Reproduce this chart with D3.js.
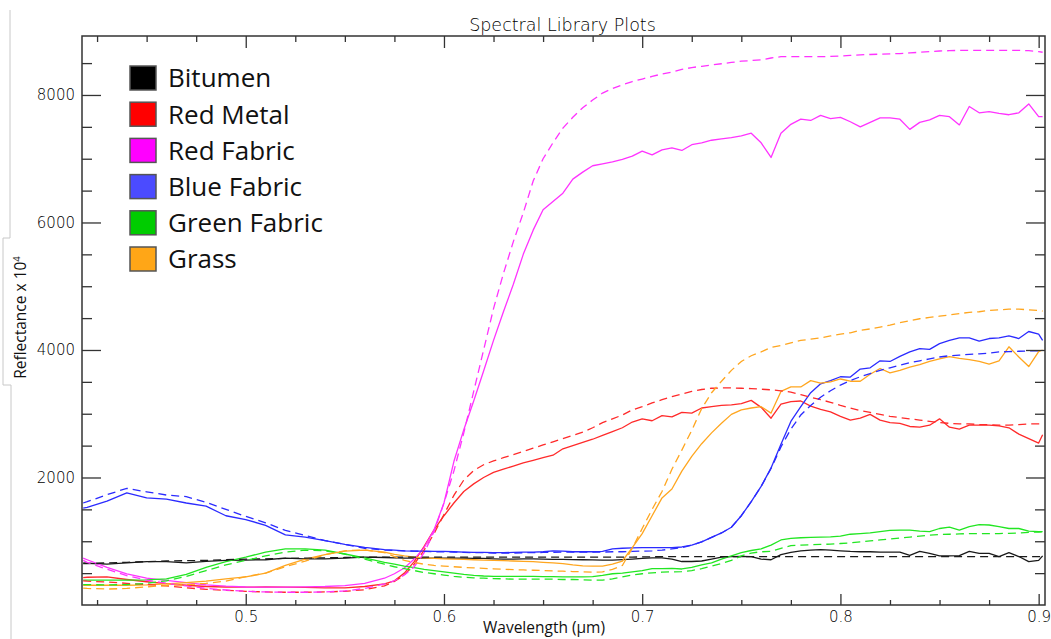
<!DOCTYPE html>
<html><head><meta charset="utf-8">
<script src="https://cdn.jsdelivr.net/npm/d3@7"></script>
<style>body{margin:0;background:#fff} svg{display:block}</style>
</head><body>
<svg id="chart" width="1051" height="639"></svg>
<script>
// ---------- DATA ----------
const wavelengths = [0.418,0.42,0.43,0.44,0.45,0.46,0.47,0.48,0.49,0.50,0.51,0.52,0.53,0.54,0.55,0.56,0.57,
0.575,0.58,0.585,0.59,0.595,0.60,0.605,0.61,0.615,0.62,0.625,0.63,0.635,0.64,0.645,0.65,0.655,0.66,0.665,0.67,0.675,0.68,0.685,0.69,
0.695,0.70,0.705,0.71,0.715,0.72,0.725,0.73,0.735,0.74,0.745,0.75,0.755,0.76,0.765,0.77,0.775,0.78,0.785,0.79,
0.795,0.80,0.805,0.81,0.815,0.82,0.825,0.83,0.835,0.84,0.845,0.85,0.855,0.86,0.865,0.87,0.875,0.88,0.885,0.89,0.895,0.90,0.902];

const bitumenSolid = [660,655,640,660,680,680,660,685,700,705,710,735,725,725,735,750,745,
740,735,735,735,735,735,735,735,730,730,725,720,720,725,725,720,715,715,712,710,708,705,705,712,
720,730,740,740,720,682,682,690,720,750,760,762,760,720,710,790,825,850,860,870,
860,850,840,835,835,830,830,830,780,840,810,770,770,775,840,810,810,760,820,760,680,700,770];
const bitumenDash = [650,650,660,670,680,690,695,700,710,720,725,730,735,740,745,750,750,
750,750,750,750,750,750,750,750,750,750,750,750,750,750,750,750,750,750,750,750,750,750,750,750,
752,754,756,758,760,760,760,760,760,760,760,760,760,760,760,760,760,760,760,760,
760,760,760,760,760,760,760,760,760,760,760,760,760,760,760,760,760,760,760,760,760,760,760];

const redMetalSolid = [430,435,440,400,365,335,310,290,282,280,282,280,275,270,268,290,330,
380,500,680,920,1180,1400,1600,1780,1900,2000,2080,2130,2180,2230,2270,2310,2350,2450,2500,2550,2600,2660,2720,2780,
2870,2920,2890,2970,2950,3020,3010,3090,3110,3130,3140,3160,3210,3100,2930,3150,3190,3200,3120,3070,
3030,2960,2900,2930,2990,2900,2860,2850,2800,2790,2820,2920,2790,2760,2820,2820,2820,2810,2780,2680,2610,2540,2670];
const redMetalDash = [380,375,360,340,320,300,270,245,230,215,205,200,200,205,215,240,300,
370,470,640,860,1120,1420,1720,1960,2110,2200,2260,2310,2360,2410,2460,2510,2560,2610,2660,2710,2780,2860,2920,2980,
3060,3110,3170,3220,3270,3310,3350,3380,3400,3405,3405,3400,3395,3385,3375,3360,3340,3300,3260,3220,
3180,3130,3090,3050,3020,2990,2960,2940,2920,2900,2880,2860,2850,2840,2840,2830,2830,2820,2820,2830,2840,2840,2840];

const redFabricSolid = [735,710,590,490,420,385,350,315,295,282,280,280,283,290,305,340,420,
490,580,720,900,1180,1600,2250,2750,3200,3670,4150,4600,5030,5500,5880,6200,6330,6460,6680,6790,6890,6920,6950,6990,
7040,7120,7060,7140,7170,7130,7220,7250,7290,7310,7330,7360,7400,7250,7020,7400,7540,7620,7600,7680,
7630,7650,7580,7500,7570,7640,7640,7620,7460,7570,7610,7680,7660,7530,7820,7720,7740,7710,7690,7720,7860,7660,7660];
const redFabricDash = [700,670,560,460,390,340,300,260,235,215,205,200,200,205,220,260,330,
380,470,600,820,1150,1600,2100,2700,3350,4000,4650,5200,5700,6150,6650,7000,7250,7480,7650,7800,7920,8030,8100,8160,
8210,8250,8290,8330,8360,8400,8430,8450,8470,8490,8510,8530,8540,8550,8580,8600,8600,8600,8600,8600,
8605,8610,8620,8630,8635,8640,8645,8650,8660,8670,8680,8690,8695,8700,8700,8700,8700,8700,8700,8700,8695,8680,8670];

const blueFabricSolid = [1520,1530,1630,1760,1680,1660,1600,1550,1400,1340,1250,1100,1065,1010,950,905,870,
860,850,845,845,840,840,835,830,825,825,820,820,825,830,830,835,850,845,835,835,835,840,880,890,
895,900,900,900,900,910,940,990,1060,1130,1220,1400,1620,1860,2150,2520,2880,3110,3330,3470,
3520,3580,3575,3700,3720,3830,3820,3900,3970,4020,4010,4100,4150,4190,4190,4140,4180,4190,4220,4180,4290,4250,4150];
const blueFabricDash = [1600,1620,1730,1830,1775,1725,1700,1610,1500,1390,1290,1170,1090,1010,950,890,860,
855,850,845,840,835,835,830,825,820,820,815,815,815,820,820,825,825,830,830,830,830,830,835,835,
840,845,850,860,880,900,940,990,1060,1130,1220,1400,1620,1860,2140,2480,2760,2980,3130,3260,
3360,3450,3520,3580,3630,3680,3720,3760,3800,3830,3860,3890,3910,3920,3930,3940,3950,3970,3975,3980,3985,3985,3985];

const greenFabricSolid = [390,390,390,390,395,410,480,590,680,750,830,880,880,860,800,740,670,
640,610,585,560,540,520,500,480,465,455,450,450,450,450,448,445,445,442,440,440,445,465,490,500,
520,540,570,570,575,565,590,630,660,720,770,820,855,880,940,1020,1045,1055,1060,1065,
1070,1080,1110,1120,1130,1150,1170,1175,1175,1160,1150,1200,1220,1175,1230,1260,1255,1230,1200,1200,1160,1150,1150];
const greenFabricDash = [320,320,315,320,340,380,450,540,630,700,770,830,860,850,800,720,640,
600,570,540,510,490,470,450,435,425,420,415,410,405,405,405,405,405,400,400,395,390,390,410,440,
470,490,505,515,520,525,540,570,610,650,700,770,815,835,840,890,930,940,945,950,
955,965,975,990,1005,1020,1035,1050,1065,1080,1095,1105,1110,1115,1120,1120,1120,1120,1125,1130,1140,1145,1150];

const grassSolid = [310,310,310,310,315,330,350,375,410,440,500,620,720,790,845,860,830,
795,770,750,740,730,725,720,715,710,705,700,695,690,685,680,670,660,650,630,615,610,610,640,690,
900,1120,1400,1680,1820,2100,2330,2530,2700,2850,2990,3060,3090,3110,3010,3350,3420,3420,3520,3480,
3500,3545,3510,3510,3620,3710,3640,3680,3730,3770,3820,3860,3895,3870,3850,3820,3780,3830,4050,3890,3740,3975,4000];
const grassDash = [265,260,250,260,285,305,320,340,375,445,500,600,690,790,850,865,820,
760,700,665,640,620,610,600,590,582,575,568,560,555,550,545,540,535,530,525,520,515,520,560,620,
890,1200,1500,1780,2130,2430,2740,3080,3330,3510,3680,3820,3910,3970,4040,4070,4110,4150,4170,4190,
4220,4250,4270,4310,4330,4360,4390,4430,4460,4490,4510,4530,4550,4570,4590,4600,4620,4630,4640,4640,4630,4620,4610];

const legendNames = ["Bitumen","Red Metal","Red Fabric","Blue Fabric","Green Fabric","Grass"];
const swatchColors = ["#000000","#ff0000","#ff00ff","#4b4bff","#00cc00","#ffa617"];
const lineColors = ["#1a1a1a","#ff2a2a","#ff33ff","#2b2bff","#22e622","#ffa61f"];
const solidSeries = [bitumenSolid, redMetalSolid, redFabricSolid, blueFabricSolid, greenFabricSolid, grassSolid];
const dashSeries = [bitumenDash, redMetalDash, redFabricDash, blueFabricDash, greenFabricDash, grassDash];

const yMajor = [2000,4000,6000,8000];
const yMinor = [500,1000,1500,2500,3000,3500,4500,5000,5500,6500,7000,7500,8500];
const xMajor = [0.5,0.6,0.7,0.8,0.9];
const xMinor = [0.425,0.45,0.475,0.525,0.55,0.575,0.625,0.65,0.675,0.725,0.75,0.775,0.825,0.85,0.875];

// ---------- CHART ----------
const svg = d3.select("#chart");
const L = 82, R = 1045, T = 36, B = 605;
const x = d3.scaleLinear().domain([0.4174, 0.9032]).range([L, R]);
const y = d3.scaleLinear().domain([0, 8925]).range([B, T]);

// text box artifact lines at left
svg.append("path").attr("d","M10,10 V238 H3 V385 H11 V639")
  .attr("fill","none").attr("stroke","#c8c8c8").attr("stroke-width",1);

svg.append("defs").append("clipPath").attr("id","clip")
  .append("rect").attr("x",L).attr("y",T).attr("width",R-L).attr("height",B-T);

const line = d3.line().x((d,i)=>x(wavelengths[i])).y(d=>y(d));
const plot = svg.append("g").attr("clip-path","url(#clip)");
solidSeries.forEach((s,k)=>{
  plot.append("path").attr("d", line(s)).attr("fill","none")
    .attr("stroke", lineColors[k]).attr("stroke-width",1.3).attr("stroke-linejoin","round");
});
dashSeries.forEach((s,k)=>{
  plot.append("path").attr("d", line(s)).attr("fill","none")
    .attr("stroke", lineColors[k]).attr("stroke-width",1.3).attr("stroke-dasharray","8,5");
});

// axes
const axisFont = "'DejaVu Sans', sans-serif";
function styleAxis(sel){
  sel.select(".domain").remove();
  sel.selectAll("line").attr("stroke","#333").attr("stroke-width",1.3);
  sel.selectAll("text").attr("fill","#000").style("font-family",axisFont)
     .style("font-size","15px").style("font-weight",200);
}
svg.append("g").attr("transform",`translate(${L},0)`)
  .call(d3.axisLeft(y).tickValues(yMajor).tickSizeInner(-19).tickSizeOuter(0).tickPadding(7).tickFormat(d3.format("d")))
  .call(styleAxis);
svg.append("g").attr("transform",`translate(${L},0)`)
  .call(d3.axisLeft(y).tickValues(yMinor).tickSizeInner(-10).tickSizeOuter(0).tickFormat(""))
  .call(styleAxis);
svg.append("g").attr("transform",`translate(${R},0)`)
  .call(d3.axisRight(y).tickValues(yMajor).tickSizeInner(-19).tickSizeOuter(0).tickFormat(""))
  .call(styleAxis);
svg.append("g").attr("transform",`translate(${R},0)`)
  .call(d3.axisRight(y).tickValues(yMinor).tickSizeInner(-10).tickSizeOuter(0).tickFormat(""))
  .call(styleAxis);
svg.append("g").attr("transform",`translate(0,${B})`)
  .call(d3.axisBottom(x).tickValues(xMajor).tickSizeInner(-11).tickSizeOuter(0).tickPadding(6).tickFormat(d3.format(".1f")))
  .call(styleAxis);
svg.append("g").attr("transform",`translate(0,${B})`)
  .call(d3.axisBottom(x).tickValues(xMinor).tickSizeInner(-5).tickSizeOuter(0).tickFormat(""))
  .call(styleAxis);
svg.append("g").attr("transform",`translate(0,${T})`)
  .call(d3.axisTop(x).tickValues(xMajor).tickSizeInner(-12).tickSizeOuter(0).tickFormat(""))
  .call(styleAxis);
svg.append("g").attr("transform",`translate(0,${T})`)
  .call(d3.axisTop(x).tickValues(xMinor).tickSizeInner(-6).tickSizeOuter(0).tickFormat(""))
  .call(styleAxis);

svg.append("rect").attr("x",L).attr("y",T).attr("width",R-L).attr("height",B-T)
  .attr("fill","none").attr("stroke","#333").attr("stroke-width",1.5);

// title
svg.append("text").attr("x",562.5).attr("y",31).attr("text-anchor","middle")
  .style("font-family",axisFont).style("font-size","17.5px").style("font-weight",200)
  .attr("fill","#000").text("Spectral Library Plots");

// x label
svg.append("text").attr("x",544).attr("y",633).attr("text-anchor","middle")
  .style("font-family","'Open Sans', sans-serif").style("font-size","15.5px")
  .attr("fill","#111").text("Wavelength (µm)");

// y label
const yl = svg.append("text").attr("transform","translate(25.5,317.5) rotate(-90)")
  .attr("text-anchor","middle").style("font-family","'Open Sans', sans-serif")
  .style("font-size","15.5px").attr("fill","#111");
yl.append("tspan").text("Reflectance x 10");
yl.append("tspan").attr("dy",-6).style("font-size","9.5px").text("4");

// legend
const leg = svg.append("g");
legendNames.forEach((n,i)=>{
  const cy = 78 + i*36.2;
  leg.append("rect").attr("x",130).attr("y",cy-12).attr("width",26).attr("height",24)
    .attr("fill",swatchColors[i]).attr("stroke","#555").attr("stroke-width",1.5);
  leg.append("text").attr("x",168).attr("y",cy+9.3)
    .style("font-family","'Open Sans', sans-serif").style("font-size","26px")
    .attr("fill","#111").text(n);
});
</script>
</body></html>
